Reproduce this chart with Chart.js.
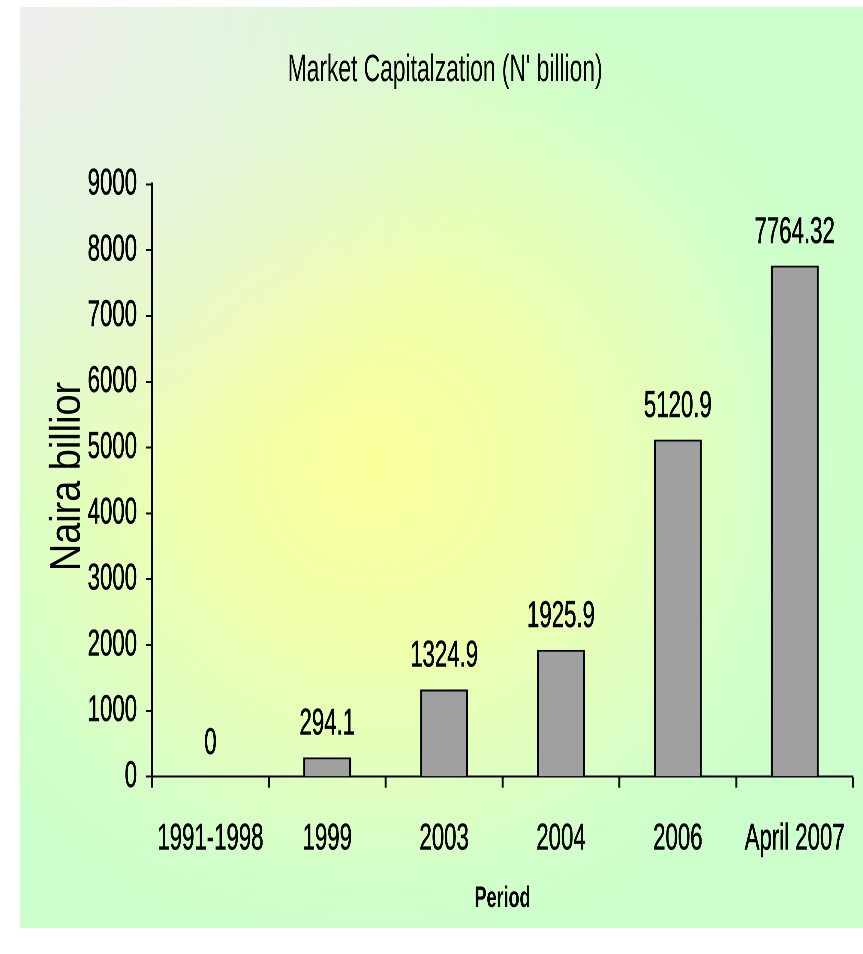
<!DOCTYPE html>
<html>
<head>
<meta charset="utf-8">
<script src="https://cdn.jsdelivr.net/npm/chart.js@4.4.1/dist/chart.umd.min.js"></script>
<style>
  html, body { margin: 0; padding: 0; background: #ffffff; overflow: hidden; }
  #wrap { position: absolute; left: 0; top: 0; width: 1438px; height: 954px; transform: scaleX(0.60014); transform-origin: 0 0; }
  canvas { display: block; }
</style>
</head>
<body>
<div id="wrap"><canvas id="c" width="1438" height="954"></canvas></div>
<script>
// ---- data ----
const categories = ['1991-1998', '1999', '2003', '2004', '2006', 'April 2007'];
const values = [0, 294.1, 1324.9, 1925.9, 5120.9, 7764.32];
const yMin = 0;
const yMax = 9000;
const yStep = 1000;
const chartTitle = "Market Capitalzation (N' billion)";
const yTitle = 'Naira billior';
const xTitle = 'Period';

const S = 863 / 1438; // horizontal compression applied to the canvas
const FONT = "'Liberation Sans', Arial, sans-serif";

const bgPlugin = {
  id: 'bg',
  beforeDraw(chart) {
    const ctx = chart.ctx;
    ctx.save();
    ctx.scale(1 / S, 1); // work in screen pixels
    const x0 = 20, y0 = 7, x1 = 863, y1 = 928;
    ctx.fillStyle = '#ccffcc';
    ctx.fillRect(x0, y0, x1 - x0, y1 - y0);
    let g = ctx.createRadialGradient(375, 465, 0, 375, 465, 530);
    g.addColorStop(0, 'rgba(250,255,155,1)');
    g.addColorStop(0.3, 'rgba(242,255,170,1)');
    g.addColorStop(0.65, 'rgba(222,255,195,1)');
    g.addColorStop(1, 'rgba(204,255,204,0)');
    ctx.fillStyle = g;
    ctx.fillRect(x0, y0, x1 - x0, y1 - y0);
    g = ctx.createRadialGradient(x0, y0, 0, x0, y0, 500);
    g.addColorStop(0, 'rgba(240,239,238,1)');
    g.addColorStop(0.4, 'rgba(238,240,232,0.7)');
    g.addColorStop(1, 'rgba(238,240,232,0)');
    ctx.fillStyle = g;
    ctx.fillRect(x0, y0, x1 - x0, y1 - y0);
    ctx.restore();
  }
};

const labelPlugin = {
  id: 'valueLabels',
  afterDatasetsDraw(chart) {
    const ctx = chart.ctx;
    const meta = chart.getDatasetMeta(0);
    ctx.save();
    ctx.font = "37px " + FONT;
    ctx.fillStyle = '#000';
    ctx.strokeStyle = '#000';
    ctx.lineWidth = 0.6;
    ctx.textAlign = 'center';
    ctx.textBaseline = 'middle';
    meta.data.forEach((el, i) => {
      const t = String(values[i]);
      ctx.strokeText(t, el.x, el.y - 33);
      ctx.fillText(t, el.x, el.y - 33);
    });
    ctx.restore();
  }
};

// y-axis title: in the reference it is not squeezed across, only slightly along its length
const yTitlePlugin = {
  id: 'yTitle',
  afterDraw(chart) {
    const ctx = chart.ctx;
    const yScale = chart.scales.y;
    ctx.save();
    ctx.scale(1 / S, 1);
    ctx.translate(68, (yScale.top + yScale.bottom) / 2 - 4);
    ctx.rotate(-Math.PI / 2);
    ctx.scale(0.88, 1);
    ctx.font = "43px " + FONT;
    ctx.fillStyle = '#000';
    ctx.textAlign = 'center';
    ctx.textBaseline = 'middle';
    ctx.fillText(yTitle, 0, 0);
    ctx.restore();
  }
};

new Chart(document.getElementById('c'), {
  type: 'bar',
  data: {
    labels: categories,
    datasets: [{
      data: values,
      backgroundColor: '#a0a0a0',
      borderColor: '#000000',
      borderWidth: { top: 2, left: 3.3, right: 3.3, bottom: 0 },
      borderSkipped: 'start',
      barPercentage: 0.41,
      categoryPercentage: 1.0
    }]
  },
  options: {
    responsive: false,
    animation: false,
    devicePixelRatio: 2,
    layout: { padding: { top: 0, bottom: 0, left: 56.7, right: 11.3 } },
    plugins: {
      legend: { display: false },
      tooltip: { enabled: false },
      title: {
        display: true,
        text: chartTitle,
        color: '#000',
        font: { family: FONT, size: 38, weight: 'normal', lineHeight: 1.2 },
        padding: { top: 47.5, bottom: 91.2 }
      }
    },
    scales: {
      x: {
        afterFit(scale) { scale.height = 177.3; },
        grid: {
          display: true, drawOnChartArea: false, drawTicks: true,
          color: '#000', tickColor: '#000', tickLength: 11, tickWidth: 3.3, offset: true
        },
        border: { display: true, color: '#000', width: 2 },
        ticks: {
          color: '#000', autoSkip: false, maxRotation: 0, minRotation: 0, padding: 29.6,
          textStrokeColor: '#000', textStrokeWidth: 0.6,
          font: { family: FONT, size: 37, lineHeight: 1.2 }
        },
        title: {
          display: true, text: xTitle, color: '#000',
          font: { family: FONT, size: 30, weight: 'bold', lineHeight: 1.2 },
          padding: { top: 0, bottom: 37.5 }
        }
      },
      y: {
        min: yMin, max: yMax,
        afterFit(scale) { scale.width = 196.6; },
        grid: {
          display: true, drawOnChartArea: false, drawTicks: true,
          color: '#000', tickColor: '#000', tickLength: 10, tickWidth: 2
        },
        border: { display: true, color: '#000', width: 3.3 },
        ticks: {
          stepSize: yStep, color: '#000', padding: 15,
          textStrokeColor: '#000', textStrokeWidth: 0.6,
          callback: (v) => String(v),
          font: { family: FONT, size: 37, lineHeight: 1.2 }
        },
        title: { display: false }
      }
    }
  },
  plugins: [bgPlugin, labelPlugin, yTitlePlugin]
});
</script>
</body>
</html>
